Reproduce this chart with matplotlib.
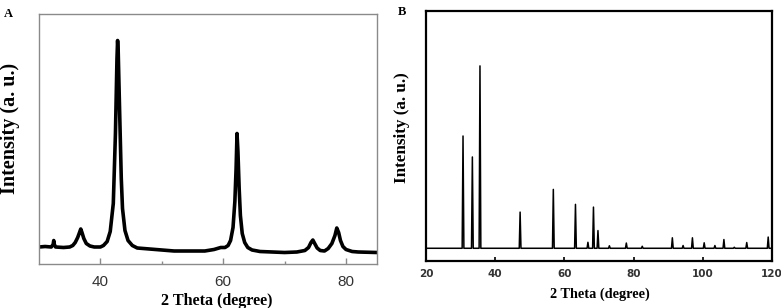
import matplotlib
matplotlib.use("Agg")
import matplotlib.pyplot as plt
from matplotlib.ticker import FixedLocator

# ---------------- Panel A data (2 theta, intensity a.u.) ----------------
a_theta = [30.0, 31.0, 32.0, 32.3, 32.4, 32.5, 32.7, 34.0, 35.0, 35.5, 35.9, 36.3,
           36.6, 36.8, 37.0, 37.3, 37.7, 38.3, 39.0, 40.0, 40.5, 41.1, 41.6, 42.1,
           42.45, 42.7, 42.8, 42.9, 43.1, 43.4, 43.6, 44.0, 44.5, 45.2, 46.0, 48.0,
           50.0, 52.0, 55.0, 57.0, 58.5, 59.6, 60.3, 60.8, 61.2, 61.6, 61.9, 62.1,
           62.25, 62.4, 62.6, 62.8, 63.1, 63.5, 64.0, 64.7, 66.0, 68.0, 70.0, 72.0,
           73.3, 73.9, 74.3, 74.6, 74.9, 75.3, 75.8, 76.5, 77.1, 77.7, 78.2, 78.5,
           78.8, 79.1, 79.5, 80.0, 81.0, 82.0, 85.0]
a_intensity = [16.5, 17.0, 16.5, 19.0, 23.0, 19.0, 16.5, 16.0, 16.5, 18.0, 21.0, 26.0,
               31.0, 34.5, 31.0, 25.0, 20.0, 17.5, 16.5, 16.5, 18.0, 22.0, 32.0, 60.0,
               130.0, 205.0, 223.0, 212.0, 160.0, 85.0, 55.0, 33.0, 23.0, 18.0, 15.5, 14.5,
               13.5, 12.5, 12.5, 12.5, 14.0, 16.0, 16.0, 18.0, 23.0, 36.0, 62.0, 95.0,
               130.0, 112.0, 75.0, 48.0, 30.0, 21.0, 16.0, 13.5, 12.0, 11.5, 11.0, 11.5,
               13.0, 16.0, 21.0, 23.5, 20.0, 15.5, 13.0, 12.5, 15.0, 20.0, 28.0, 35.5,
               31.0, 23.0, 17.0, 14.0, 12.0, 11.5, 11.0]
a_xticks = [40, 60, 80]
a_minor = [50, 70]

# ---------------- Panel B data (peak positions / heights) ----------------
b_peak_theta = [30.7, 33.4, 35.6, 47.2, 56.8, 63.2, 66.8, 68.4, 69.7, 73.0, 77.9,
                82.5, 91.2, 94.3, 97.0, 100.4, 103.5, 106.1, 109.1, 112.7, 118.9]
b_peak_height = [49.9, 41.5, 78.0, 19.4, 28.5, 22.5, 7.3, 21.4, 12.0, 5.9, 7.0,
                 5.7, 9.1, 6.0, 9.1, 7.1, 6.0, 8.4, 5.3, 7.2, 9.4]
b_baseline = 4.9
b_xlim = [20, 120]
b_xticks = [20, 40, 60, 80, 100, 120]

W, H = 781, 308
fig = plt.figure(figsize=(W / 100, H / 100), dpi=100)

def fx(px):
    return px / W

def fy(py):
    return 1 - py / H

serif = ["Liberation Serif", "DejaVu Serif"]

# ---------------- Panel A ----------------
axA = fig.add_axes([fx(39), fy(263.5), fx(376.7 - 39), (263.5 - 14) / H])
axA.plot(a_theta, a_intensity, color="black", lw=2.6, solid_joinstyle="round")
axA.set_xlim(30, 85)
axA.set_ylim(0, 249.5)
axA.xaxis.set_major_locator(FixedLocator(a_xticks))
axA.xaxis.set_minor_locator(FixedLocator(a_minor))
axA.set_yticks([])
for s in axA.spines.values():
    s.set_color("#8a8a8a")
    s.set_linewidth(1.0)
axA.tick_params(axis="x", which="major", direction="in", length=4, width=1,
                color="#8a8a8a", labelsize=11, pad=8, labelcolor="#333333")
axA.tick_params(axis="x", which="minor", direction="in", length=2.5, width=1,
                color="#8a8a8a")
for lab in axA.get_xticklabels():
    lab.set_fontfamily(["Liberation Sans", "DejaVu Sans"])

fig.text(fx(10), fy(128), "Intensity (a. u.)", rotation=90, ha="center", va="center",
         fontsize=14.5, fontweight="bold", family=serif)
fig.text(fx(216.5), fy(301), "2 Theta (degree)", ha="center", va="center",
         fontsize=11.6, fontweight="bold", family=serif)
fig.text(fx(8.5), fy(14), "A", ha="center", va="center", fontsize=9,
         fontweight="bold", family=serif)

# ---------------- Panel B ----------------
bx = [b_xlim[0]]
by = [b_baseline]
for t, h in zip(b_peak_theta, b_peak_height):
    bx += [t - 0.25, t, t + 0.25]
    by += [b_baseline, h, b_baseline]
bx.append(b_xlim[1])
by.append(b_baseline)

axB = fig.add_axes([fx(426), fy(260.5), fx(772 - 426), (260.5 - 11) / H])
axB.plot(bx, by, color="black", lw=1.1)
axB.set_xlim(*b_xlim)
axB.set_ylim(0, 100)
axB.set_xticks(b_xticks)
axB.set_yticks([])
for s in axB.spines.values():
    s.set_color("black")
    s.set_linewidth(1.6)
axB.tick_params(axis="x", direction="in", length=3, width=1.2, color="black",
                labelsize=7.5, pad=6, labelcolor="#333333")
for lab in axB.get_xticklabels():
    lab.set_fontweight("bold")
    lab.set_fontfamily("DejaVu Sans")

fig.text(fx(402), fy(128), "Intensity (a. u.)", rotation=90, ha="center", va="center",
         fontsize=12.3, fontweight="bold", family=serif)
fig.text(fx(600), fy(294), "2 Theta (degree)", ha="center", va="center",
         fontsize=10.3, fontweight="bold", family=serif)
fig.text(fx(402), fy(12), "B", ha="center", va="center", fontsize=9,
         fontweight="bold", family=serif)

fig.savefig("out.png", dpi=100)
